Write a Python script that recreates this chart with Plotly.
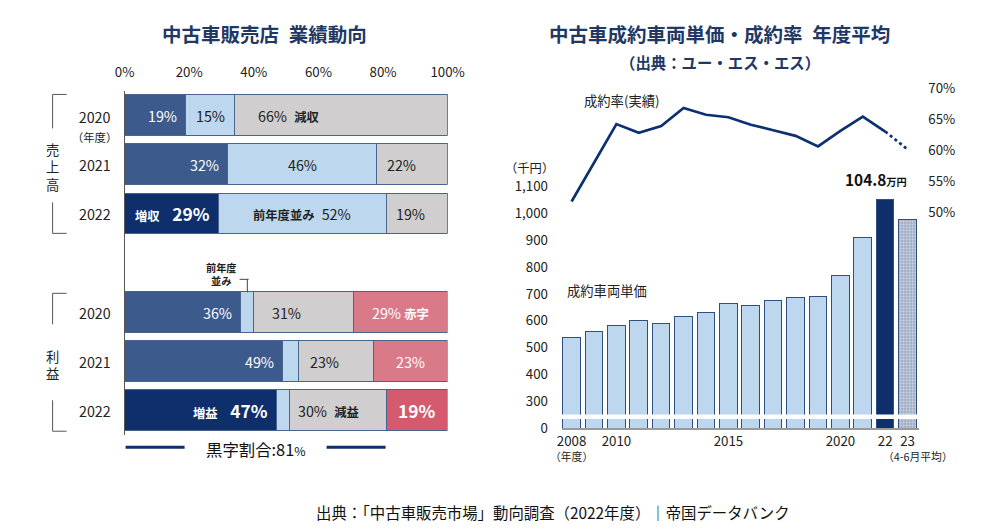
import plotly.graph_objects as go

# ---------------- Left chart data (中古車販売店 業績動向) ----------------
row_years = ["2020", "2021", "2022", "2020", "2021", "2022"]
row_pos = [0, 1, 2, 4, 5, 6]
share_up = [19, 32, 29, 36, 49, 47]      # 増収 / 増益
share_flat = [15, 46, 52, 4, 5, 4]       # 前年度並み
share_down = [66, 22, 19, 31, 23, 30]    # 減収 / 減益
share_loss = [0, 0, 0, 29, 23, 19]       # 赤字
up_words = ["", "", "増収", "", "", "増益"]
flat_words = ["", "", "前年度並み", "", "", ""]
down_words = ["減収", "", "", "", "", "減益"]
loss_words = ["", "", "", "赤字", "", ""]
black_ratio = 81
pct_ticks = [0, 20, 40, 60, 80, 100]

# ---------------- Right chart data (成約車両単価・成約率) ----------------
fiscal_years = list(range(2008, 2024))
unit_price = [536, 558, 578, 596, 585, 614, 628, 660, 652, 671, 683, 687, 766, 908, 1048, 975]
contract_rate = [51.8, 58.0, 64.3, 62.9, 64.0, 66.9, 65.8, 65.4, 64.2, 63.3, 62.4, 60.7, 63.2, 65.5, 63.1, 60.2]
year_tick_vals = [2008, 2010, 2015, 2020, 2022, 2023]
year_tick_text = ["2008", "2010", "2015", "2020", "22", "23"]
price_tick_vals = [200, 300, 400, 500, 600, 700, 800, 900, 1000, 1100]
price_tick_text = ["0", "300", "400", "500", "600", "700", "800", "900", "1,000", "1,100"]
rate_tick_vals = [50, 55, 60, 65, 70]

W, H = 1000, 532
# the page is shown slightly reduced and offset; map target screen pixels to figure pixels
AX, BX, AY, BY = 18.4, 0.973, 9.5, 0.98
FS = 1.0 / 0.976
FONT = "Noto Sans CJK JP"
NAVY = "#0e2f6b"
MID = "#3c5b8c"
LIGHT = "#bdd7ee"
GREY = "#d0cece"
PINK = "#d97a89"
PINK2 = "#d45a6e"
TXT = "#222222"
TITLE = "#1f3864"
EDGE = "#4a6490"


def px(x):
    return ((x - AX) / BX) / W


def py(y):
    return 1 - ((y - AY) / BY) / H


def fs(s):
    return round(s * FS, 1)


def note(x, y, text, size=13, color=TXT, xref="paper", yref="paper", xanchor="center", yanchor="middle", **kw):
    return dict(x=x, y=y, xref=xref, yref=yref, text=text, xanchor=xanchor, yanchor=yanchor,
                showarrow=False, font=dict(size=fs(size), color=color, family=FONT), **kw)


fig = go.Figure()

# ---------- left stacked bars ----------
up_colors = [NAVY if y == "2022" else MID for y in row_years]
loss_colors = [PINK2 if y == "2022" else PINK for y in row_years]
for vals, cols in [(share_up, up_colors), (share_flat, LIGHT), (share_down, GREY), (share_loss, loss_colors)]:
    fig.add_trace(go.Bar(
        x=vals, y=row_pos, orientation="h", width=0.83,
        marker=dict(color=cols, line=dict(color=EDGE, width=1)),
        xaxis="x", yaxis="y", showlegend=False, hoverinfo="skip",
    ))

ann = []
down_pad = [22, 8, 8, 16, 9, 7]
sm = fs(12)
for i in range(len(row_pos)):
    y = row_pos[i]
    big = row_years[i] == "2022"
    u, f, d, l = share_up[i], share_flat[i], share_down[i], share_loss[i]
    if up_words[i]:
        t = f"<b><span style='font-size:{sm}px'>{up_words[i]}</span>\u2002 {u}%</b>"
        ann.append(note(u, y, t, 17, "white", "x", "y", xanchor="right", xshift=-6))
    else:
        ann.append(note(u, y, f"{u}%", 14, "white", "x", "y", xanchor="right", xshift=-7))
    if f >= 10:
        t = f"{f}%" if not flat_words[i] else f"<b><span style='font-size:{sm}px'>{flat_words[i]}</span></b>\u2002{f}%"
        ann.append(note(u + f / 2, y, t, 14, TXT, "x", "y"))
    t = f"{d}%" + (f"\u2002<b><span style='font-size:{sm}px'>{down_words[i]}</span></b>" if down_words[i] else "")
    ann.append(note(u + f, y, t, 14, TXT, "x", "y", xanchor="left", xshift=down_pad[i]))
    if l > 0:
        if big:
            t, sz = f"<b>{l}%</b>", 17
        else:
            t = f"{l}%" + (f" <b><span style='font-size:{sm}px'>{loss_words[i]}</span></b>" if loss_words[i] else "")
            sz = 14
        ann.append(note(u + f + d + l / 2, y, t, sz, "white", "x", "y"))
    if i == 0:
        ann.append(note(px(95), y, row_years[i] + f"<br><span style='font-size:{fs(11)}px'>（年度）</span>",
                        14, TXT, "paper", "y", yanchor="top", yshift=11))
    else:
        ann.append(note(px(95), y, row_years[i], 14, TXT, "paper", "y"))

ann.append(note(px(53), py(167), "売<br>上<br>高", 13))
ann.append(note(px(53), py(364.5), "利<br>益", 13))
flat_mid = share_up[3] + share_flat[3] / 2
ann.append(note(px(222), py(274), "<b>前年度<br>並み</b>", 10))
ann.append(note(px(256), py(449), "黒字割合:" + str(black_ratio) + f"<span style='font-size:{sm}px'>%</span>", 16, "#111111"))
# titles
ann.append(note(px(265), py(33), "<b>中古車販売店\u2002業績動向</b>", 19, TITLE))
ann.append(note(px(720), py(33), "<b>中古車成約車両単価・成約率\u2002年度平均</b>", 19, TITLE))
ann.append(note(px(720), py(62), "<b>（出典：ユー・エス・エス）</b>", 15, TITLE))
# right chart labels
ann.append(note(px(622), py(100), "成約率(実績)", 13))
ann.append(note(px(607), py(290), "成約車両単価", 13))
ann.append(note(px(530), py(168), "（千円）", 12))
i22 = fiscal_years.index(2022)
ann.append(note(2022, unit_price[i22],
                "<b>" + f"{unit_price[i22] / 10:.1f}" + f"</b><b><span style='font-size:{fs(10)}px'>万円</span></b>",
                15, "#111111", "x2", "y2", yanchor="bottom", xshift=-9, yshift=8))
ann.append(note(2008, py(456), "（年度）", 10.5, TXT, "x2", "paper"))
ann.append(note(2023, py(456), "（4-6月平均）", 10.5, TXT, "x2", "paper", xshift=10))
# footer
ann.append(note(px(553), py(512), "出典：「中古車販売市場」動向調査（2022年度）｜帝国データバンク", 15, "#111111"))

# ---------- right chart ----------
bar_colors = [LIGHT] * len(fiscal_years)
bar_colors[i22] = NAVY
bar_colors[fiscal_years.index(2023)] = "#c6d3ea"
pat = [""] * len(fiscal_years)
pat[fiscal_years.index(2023)] = "."
fig.add_trace(go.Bar(
    x=fiscal_years, y=unit_price, width=0.78, xaxis="x2", yaxis="y2",
    marker=dict(color=bar_colors, line=dict(color="#2f4f80", width=1),
                pattern=dict(shape=pat, fgcolor="#5b6f9e", size=3, solidity=0.35, fillmode="overlay")),
    showlegend=False, hoverinfo="skip",
))
n_solid = i22 + 1
fig.add_trace(go.Scatter(
    x=fiscal_years[:n_solid], y=contract_rate[:n_solid], mode="lines", xaxis="x2", yaxis="y3",
    line=dict(color="#0d3170", width=2.7), showlegend=False, hoverinfo="skip",
))
fig.add_trace(go.Scatter(
    x=fiscal_years[n_solid - 1:], y=contract_rate[n_solid - 1:], mode="lines", xaxis="x2", yaxis="y3",
    line=dict(color="#0d3170", width=2.7, dash="dot"), showlegend=False, hoverinfo="skip",
))

shapes = []
for (y0, y1, yc) in [(94, 128, 94), (202, 233, 233), (293, 324, 293), (400, 431, 431)]:
    shapes.append(dict(type="line", xref="paper", yref="paper", x0=px(53), x1=px(53), y0=py(y0), y1=py(y1),
                       line=dict(color="#555555", width=1)))
    shapes.append(dict(type="line", xref="paper", yref="paper", x0=px(53), x1=px(67), y0=py(yc), y1=py(yc),
                       line=dict(color="#555555", width=1)))
shapes.append(dict(type="line", xref="paper", yref="paper", x0=px(240), x1=px(249), y0=py(279), y1=py(279),
                   line=dict(color="#444444", width=1)))
shapes.append(dict(type="line", xref="x", yref="paper", x0=flat_mid, x1=flat_mid, y0=py(279), y1=py(292),
                   line=dict(color="#444444", width=1)))
for a, b in [(126, 185), (327, 386)]:
    shapes.append(dict(type="line", xref="paper", yref="paper", x0=px(a), x1=px(b), y0=py(447), y1=py(447),
                       line=dict(color=NAVY, width=3)))
shapes.append(dict(type="rect", xref="x2 domain", yref="y2", x0=0, x1=1, y0=234, y1=251,
                   fillcolor="white", line=dict(width=0), layer="above"))

fig.update_layout(
    width=W, height=H, margin=dict(l=0, r=0, t=0, b=0),
    paper_bgcolor="white", plot_bgcolor="white",
    barmode="stack", bargap=0,
    font=dict(family=FONT, color=TXT),
    annotations=ann, shapes=shapes,
    xaxis=dict(domain=[px(125), px(448)], range=[0, 100], side="top", anchor="y",
               tickvals=pct_ticks, ticktext=[f"{v}%" for v in pct_ticks],
               showgrid=False, zeroline=False, showline=False,
               ticks="outside", ticklen=8, tickcolor="rgba(0,0,0,0)",
               tickfont=dict(size=fs(13), color=TXT, family=FONT), fixedrange=True),
    yaxis=dict(domain=[py(435.1), py(90.4)], range=[6.5, -0.5], anchor="x",
               showticklabels=False, showgrid=False, zeroline=False,
               showline=True, linecolor="#555555", linewidth=1, ticks=""),
    xaxis2=dict(domain=[px(562), px(919)], range=[2007.554, 2023.49], anchor="y2",
                tickvals=year_tick_vals, ticktext=year_tick_text, showgrid=False, zeroline=False,
                showline=True, linecolor="#9a9a9a", linewidth=1.5, ticks="",
                tickfont=dict(size=fs(13), color=TXT, family=FONT)),
    yaxis2=dict(domain=[py(428), py(80)], range=[200, 1494.6], anchor="x2",
                tickvals=price_tick_vals, ticktext=price_tick_text, showgrid=False, zeroline=False,
                showline=False, ticks="outside", ticklen=10, tickcolor="rgba(0,0,0,0)",
                tickfont=dict(size=fs(13), color=TXT, family=FONT)),
    yaxis3=dict(overlaying="y2", side="right", anchor="x2", range=[15.21, 71.34],
                tickvals=rate_tick_vals, ticktext=[f"{v}%" for v in rate_tick_vals],
                showgrid=False, zeroline=False,
                showline=False, ticks="outside", ticklen=6, tickcolor="rgba(0,0,0,0)",
                tickfont=dict(size=fs(13), color=TXT, family=FONT)),
)

fig.write_html("out.html")
